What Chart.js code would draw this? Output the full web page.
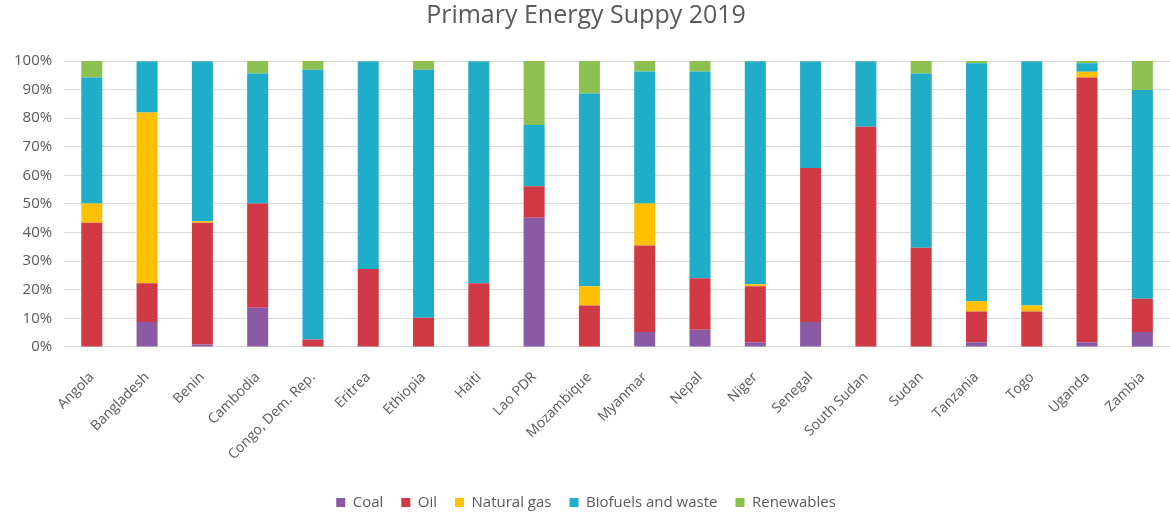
<!DOCTYPE html>
<html>
<head>
<meta charset="utf-8">
<title>Primary Energy Supply 2019</title>
<script src="https://cdn.jsdelivr.net/npm/chart.js@4.4.1/dist/chart.umd.min.js"></script>
<style>
  html, body { margin: 0; padding: 0; background: #fff; }
  #wrap { width: 1170px; height: 514px; position: relative; }
</style>
</head>
<body>
<div id="wrap"><canvas id="energyChart"></canvas></div>
<script>
// Countries along the x axis
const countries = ['Angola', 'Bangladesh', 'Benin', 'Cambodia', 'Congo, Dem. Rep.', 'Eritrea', 'Ethiopia',
    'Haiti', 'Lao PDR', 'Mozambique', 'Myanmar', 'Nepal', 'Niger', 'Senegal', 'South Sudan', 'Sudan',
    'Tanzania', 'Togo', 'Uganda', 'Zambia'];

// Share of primary energy supply by source (%)
const coal       = [0,    8.7,  0.9,  13.7, 0,    0,    0,    0,    45.2, 0,    5.2,  6.0,  1.7,  8.7,  0,    0,    1.7,  0,    1.7,  5.2];
const oil        = [43.4, 13.6, 42.5, 36.5, 2.6,  27.3, 10.2, 22.3, 11.0, 14.5, 30.3, 18.0, 19.5, 53.9, 77.0, 34.7, 10.7, 12.4, 92.5, 11.7];
const naturalGas = [6.8,  59.7, 0.6,  0,    0,    0,    0,    0,    0,    6.7,  14.7, 0,    0.7,  0,    0,    0,    3.6,  2.1,  2.0,  0];
const biofuels   = [44.0, 17.8, 55.8, 45.4, 94.3, 72.5, 86.7, 77.5, 21.4, 67.4, 46.1, 72.3, 77.9, 37.2, 22.8, 60.9, 83.2, 85.3, 3.0,  73.0];
const renewables = [5.8,  0.2,  0.2,  4.4,  3.1,  0.2,  3.1,  0.2,  22.4, 11.4, 3.7,  3.7,  0.2,  0.2,  0.2,  4.4,  0.8,  0.2,  0.8,  10.1];

const yTicks = [0, 10, 20, 30, 40, 50, 60, 70, 80, 90, 100];

const textColor = '#595959';
const fontFamily = "'Open Sans', 'Lato', sans-serif";

Chart.defaults.font.family = fontFamily;
Chart.defaults.color = textColor;

function series(label, data, color) {
    return {
        label: label,
        data: data,
        backgroundColor: color,
        borderWidth: 0,
        categoryPercentage: 1.0,
        barPercentage: 0.38
    };
}

const ctx = document.getElementById('energyChart').getContext('2d');
new Chart(ctx, {
    type: 'bar',
    data: {
        labels: countries,
        datasets: [
            series('Coal', coal, '#8b5aa5'),
            series('Oil', oil, '#cf3a45'),
            series('Natural gas', naturalGas, '#ffc000'),
            series('Biofuels and waste', biofuels, '#1fadc8'),
            series('Renewables', renewables, '#8cc152')
        ]
    },
    options: {
        responsive: true,
        maintainAspectRatio: false,
        animation: false,
        layout: { padding: { left: 2, right: 0, top: 1, bottom: -6 } },
        scales: {
            x: {
                stacked: true,
                grid: { display: false },
                border: { display: true, color: '#d9d9d9' },
                ticks: {
                    minRotation: 45,
                    maxRotation: 45,
                    autoSkip: false,
                    padding: 14,
                    color: textColor,
                    font: { size: 14 }
                }
            },
            y: {
                stacked: true,
                min: 0,
                max: 100,
                afterBuildTicks: axis => { axis.ticks = yTicks.map(v => ({ value: v })); },
                grid: { color: '#d9d9d9', drawTicks: false },
                border: { display: false },
                ticks: {
                    padding: 12,
                    color: textColor,
                    font: { size: 15 },
                    callback: v => v + '%'
                }
            }
        },
        plugins: {
            title: {
                display: true,
                text: 'Primary Energy Suppy 2019',
                color: textColor,
                font: { size: 25, weight: 'normal' },
                padding: { top: 0, bottom: 30 }
            },
            legend: {
                position: 'bottom',
                labels: {
                    boxWidth: 9,
                    boxHeight: 9,
                    padding: 18,
                    color: textColor,
                    font: { size: 15 }
                }
            },
            tooltip: { enabled: false }
        }
    }
});
</script>
</body>
</html>
